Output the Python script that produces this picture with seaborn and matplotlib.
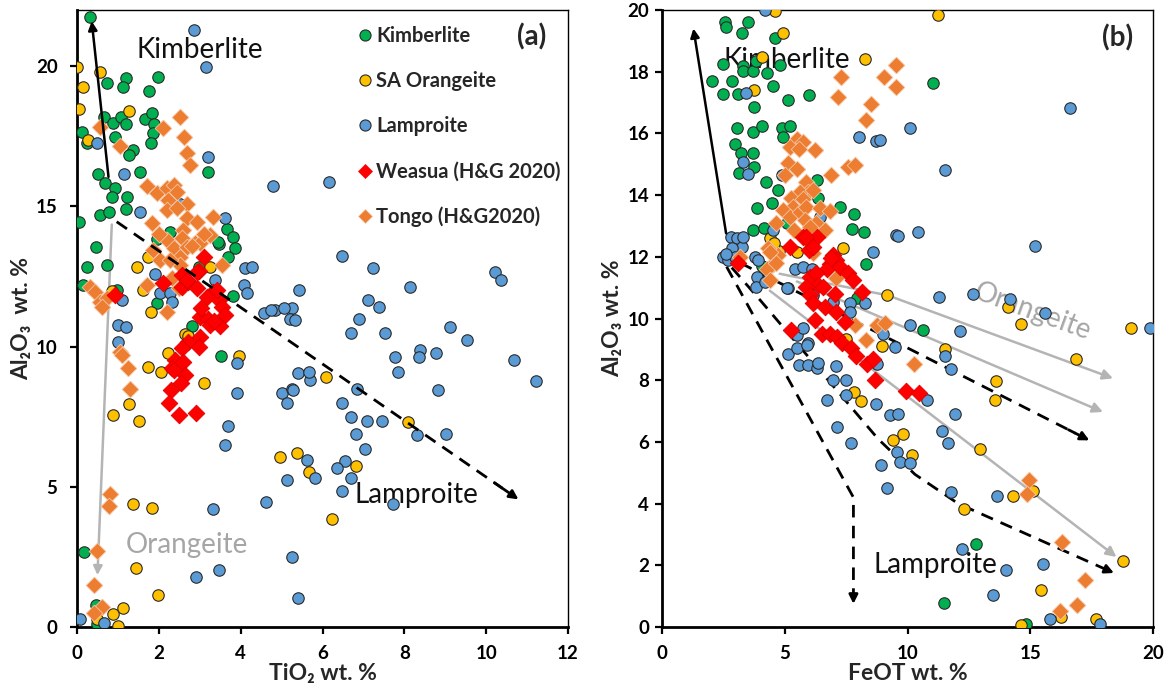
import numpy as np
import pandas as pd
import seaborn as sns
import matplotlib
matplotlib.use("Agg")
import matplotlib.pyplot as plt
from matplotlib.lines import Line2D

sns.set_theme(style="ticks")
plt.rcParams['font.family'] = ['Lato', 'DejaVu Sans']

# ---------------- Panel (a): TiO2 vs Al2O3 ----------------
kim_a_ti = [0.32,0.74,1.20,1.13,1.99,1.76,0.11,0.67,0.89,1.07,1.20,1.65,1.83,1.88,1.85,1.80,0.25,0.93,1.38,1.28,
            0.52,0.69,0.93,0.85,1.21,1.54,3.21,0.55,0.77,1.20,0.05,0.46,0.25,0.73,1.95,3.66,3.82,3.86,3.46,3.70,
            2.97,3.82,0.14,0.97,1.95,2.80,3.52,0.18,0.46,0.48,2.27,3.45]
kim_a_al = [21.76,19.38,19.56,19.24,19.60,19.10,17.66,18.20,17.98,18.20,17.93,18.13,18.34,17.93,17.60,17.24,17.24,17.46,17.00,16.83,
            16.17,15.84,15.64,15.34,15.34,16.23,16.23,14.69,14.80,14.89,14.45,13.56,12.85,12.90,13.82,14.18,13.92,13.50,13.65,13.20,
            12.85,11.80,12.19,12.00,11.54,10.73,9.66,2.69,0.78,0.10,14.09,13.74]

ora_a_ti = [0.00,0.56,0.15,0.05,1.26,0.28,1.46,1.74,3.25,1.62,1.80,0.85,2.64,2.72,2.23,1.74,2.05,3.10,3.96,1.28,
            0.87,1.52,1.38,1.83,1.44,1.99,1.13,0.89,1.01,0.48,4.95,5.37,6.08,5.68,6.81,6.23,8.10]
ora_a_al = [19.98,19.80,19.26,18.46,18.40,17.38,12.85,13.20,12.82,12.01,11.24,11.98,10.46,10.37,9.78,9.28,9.10,8.69,9.66,7.95,
            7.56,7.36,4.39,4.23,2.09,1.14,0.67,0.46,0.04,0.27,6.05,6.20,8.92,5.54,5.75,3.84,7.32]

lam_a_ti = [2.86,3.15,0.48,3.21,1.15,4.80,1.54,2.52,3.62,1.91,4.11,4.27,4.09,4.15,2.03,2.27,2.31,1.09,3.37,5.42,
            4.56,4.84,5.26,5.21,5.34,1.01,1.20,1.01,3.92,3.92,3.70,3.62,3.33,2.92,3.48,4.63,5.13,5.00,5.25,5.13,
            5.41,5.25,5.39,0.07,0.66,6.16,6.47,7.24,10.22,10.36,8.14,7.12,7.37,6.89,6.70,7.53,9.12,9.54,10.67,11.21,
            8.39,8.37,8.77,7.76,7.84,8.83,6.84,5.70,5.68,5.29,6.47,6.69,7.08,7.45,6.82,8.32,9.01,7.04,5.63,6.54,
            6.35,5.82,6.69,6.47,7.73,4.74,5.06]
lam_a_al = [21.28,19.98,17.27,16.77,16.15,15.73,14.81,15.10,14.60,12.60,12.79,12.85,12.19,11.90,11.92,11.90,11.60,11.65,12.37,12.02,
            11.18,11.30,11.36,11.00,10.95,10.77,10.70,10.15,9.40,8.33,7.17,6.49,4.19,1.79,2.03,4.47,5.24,8.33,8.49,7.98,
            9.04,2.51,1.02,0.27,0.13,15.88,13.23,12.79,12.67,12.37,12.13,11.66,11.40,11.00,10.48,10.47,10.68,10.23,9.52,8.78,
            9.88,9.64,9.78,9.64,9.08,8.45,8.48,8.81,9.10,8.45,7.97,7.50,7.36,7.36,6.88,6.84,6.87,6.33,5.95,5.93,
            5.66,5.32,5.30,4.86,4.39,11.30,11.36]

wea_a_ti = [3.10,2.98,2.56,2.11,2.56,2.72,3.33,3.17,3.46,3.54,3.62,3.00,3.21,3.25,3.50,0.93,3.00,2.72,2.56,2.99,
            2.40,2.60,2.31,2.63,2.55,2.30,2.26,2.50,2.90,2.94,2.68,2.94,3.41,3.02,3.35,2.36]
wea_a_al = [13.18,12.70,12.55,12.25,12.13,12.30,11.95,11.77,11.65,11.42,11.12,11.05,11.00,10.77,10.74,11.83,10.35,10.17,9.94,9.99,
            9.52,9.46,9.22,8.98,8.69,8.45,8.00,7.56,7.64,12.66,12.37,12.07,12.00,11.36,10.90,9.16]

ton_a_ti = [2.52,2.11,0.55,1.04,2.62,2.70,2.76,1.70,1.95,2.19,2.36,2.44,2.23,2.69,2.19,2.44,3.33,1.83,2.69,2.93,
            2.60,2.19,2.56,2.36,2.69,2.89,3.25,1.86,2.03,2.52,2.52,3.00,3.54,2.32,1.70,0.32,0.44,0.56,0.73,0.60,
            1.05,1.10,1.25,1.30,0.81,0.79,0.50,0.42,0.60,0.42,2.00,2.82,3.10,2.28,2.50,2.19]
ton_a_al = [18.19,17.78,17.84,17.15,17.48,16.91,16.47,15.72,15.46,15.64,15.76,15.52,15.22,15.10,14.87,14.93,14.63,14.39,14.57,14.45,
            14.15,13.80,13.86,13.50,13.56,13.68,13.97,13.44,13.08,13.20,12.90,13.68,12.90,12.43,12.19,12.13,11.95,11.60,11.72,11.42,
            9.82,9.70,9.25,8.47,4.74,4.31,2.72,1.50,0.72,0.49,14.00,13.60,14.00,13.08,12.07,11.24]

# ---------------- Panel (b): FeOT vs Al2O3 ----------------
kim_b_fe = [2.57,2.62,3.50,3.25,4.61,2.03,2.48,2.87,2.48,3.12,3.29,3.29,3.73,3.83,4.27,4.81,4.54,3.77,5.15,6.00,
            3.05,3.70,4.07,4.88,5.22,4.95,2.98,3.22,3.73,3.16,3.75,4.24,4.74,6.30,3.86,4.47,3.73,4.16,7.25,7.83,
            7.76,8.24,8.33,6.37,11.02,10.63,12.80,11.48,14.84,5.10,4.10,7.93]
kim_b_al = [19.62,19.46,19.62,19.24,19.08,17.70,18.24,17.70,17.28,17.28,18.20,18.02,18.02,18.35,17.97,18.22,17.54,16.84,17.08,17.24,
            16.19,16.05,16.24,16.16,16.24,15.89,15.65,15.35,15.35,14.72,14.92,14.43,14.18,14.49,13.57,13.73,12.86,12.94,13.62,13.38,
            12.89,12.79,11.78,13.89,17.64,9.64,2.70,0.78,0.10,13.10,11.70,10.65]

ora_b_fe = [4.61,4.92,4.07,3.75,8.27,4.40,4.78,5.49,7.38,9.15,7.49,11.24,14.09,14.63,19.10,11.54,16.84,13.60,13.55,9.80,
            9.39,12.94,10.20,15.10,14.30,12.29,18.76,15.45,14.63,16.25,17.65,7.82,8.09,8.98,4.55]
ora_b_al = [19.97,19.26,18.49,17.41,18.40,12.60,12.20,12.16,12.27,10.76,9.32,19.84,10.38,9.82,9.68,9.00,8.70,7.98,7.37,6.25,
            6.05,5.78,5.57,4.40,4.25,3.84,2.13,1.19,0.05,0.32,0.27,7.62,7.33,9.10,12.45]

lam_b_fe = [4.20,3.41,8.04,8.71,3.32,3.50,4.88,6.46,4.51,2.80,3.07,3.25,2.84,2.50,2.71,2.98,3.32,2.60,3.79,3.90,
            3.86,3.83,4.27,5.42,5.76,6.10,5.15,6.17,8.58,9.55,7.66,7.66,8.27,6.98,9.01,5.49,5.96,16.60,10.12,11.54,
            9.62,10.43,15.20,11.29,12.67,14.16,15.61,10.12,12.13,19.85,8.87,11.52,11.76,11.92,11.41,11.65,10.80,9.28,9.62,9.58,
            9.69,10.12,8.94,9.15,11.76,13.66,12.20,15.51,13.99,13.48,15.79,17.83,9.48,5.12,5.49,5.92,5.60,5.96,6.30,6.37,
            7.09,6.95,7.49,7.49,6.71,8.71,7.14,7.72,8.77,5.76,4.20,5.08]
lam_b_al = [20.00,17.30,15.89,15.75,15.06,14.67,14.65,13.30,12.86,12.63,12.60,12.32,12.27,12.00,11.89,12.00,12.63,12.10,12.00,11.90,
            11.35,11.03,11.24,11.62,11.68,11.62,11.00,10.76,12.16,12.70,10.49,10.22,10.49,10.54,9.51,9.46,9.19,16.81,16.18,14.81,
            12.67,12.79,12.36,10.70,10.81,10.62,10.18,9.78,9.59,9.68,15.78,8.78,8.35,6.89,6.36,5.95,7.37,6.86,6.92,5.68,
            5.35,5.32,5.24,4.49,4.38,4.25,2.54,2.05,1.84,1.03,0.27,0.11,9.08,8.84,9.03,9.14,8.49,8.49,8.38,8.56,
            8.45,8.00,8.00,7.51,7.37,7.22,6.49,5.95,8.54,9.68,11.17,10.98]

wea_b_fe = [5.22,5.73,6.00,6.30,6.17,6.98,7.11,6.84,6.71,7.25,6.03,6.27,6.37,5.89,6.03,6.57,7.05,7.56,7.79,8.13,
            6.17,6.64,7.09,7.45,6.23,6.54,5.28,6.84,7.15,7.32,7.72,7.89,8.36,8.60,8.67,9.93,10.47,3.11,5.89,6.90]
wea_b_al = [12.32,12.65,12.22,12.65,12.32,12.05,11.89,11.78,11.62,11.68,11.35,11.46,11.08,11.03,10.76,11.03,10.81,11.46,11.24,10.86,
            10.49,10.38,10.22,9.89,9.95,9.51,9.62,9.51,9.41,9.19,9.03,8.78,8.54,8.70,8.02,7.65,7.59,11.79,12.65,11.95]

ton_b_fe = [7.28,7.18,9.53,9.04,9.53,8.51,8.33,5.49,5.73,5.22,5.60,6.23,5.12,5.49,5.01,6.87,7.59,7.86,5.89,5.96,
            5.62,6.17,5.28,5.76,5.35,4.92,5.22,5.62,5.89,6.44,6.84,5.83,6.27,6.64,6.03,5.38,4.67,6.06,4.34,4.74,
            4.54,4.27,3.18,6.17,7.11,8.33,8.77,9.08,7.86,10.25,14.95,14.86,16.28,17.23,16.90,16.22,4.40,4.40,4.67]
ton_b_al = [17.84,17.19,18.22,17.84,17.49,16.95,16.43,15.81,15.73,15.57,15.50,15.46,15.05,14.86,14.65,14.65,14.92,14.97,14.43,14.11,
            14.11,14.16,13.89,13.86,13.62,13.51,13.30,13.46,13.62,13.57,13.49,13.19,13.08,12.86,12.97,12.86,13.10,12.43,12.27,12.05,
            11.78,11.62,12.00,12.11,11.30,9.30,9.78,9.86,9.78,8.52,4.76,4.30,2.76,1.51,0.70,0.52,12.16,11.24,11.80]

# ---------------- trend lines ----------------
a_black_x = [0.77, 0.36];  a_black_y = [16.05, 21.6]
a_gray_x = [0.85, 0.50];   a_gray_y = [14.35, 1.85]
a_dash_x = [0.97, 10.79];  a_dash_y = [14.45, 4.55]

b_black_x = [2.62, 1.29];  b_black_y = [12.76, 19.4]
b_dash1_x = [3.2, 17.4];   b_dash1_y = [11.8, 6.05]
b_dash2_x = [2.85, 4.0, 8.8, 10.3, 12.06, 18.4]; b_dash2_y = [11.65, 10.6, 6.1, 4.95, 4.0, 1.75]
b_dash3_x = [2.64, 7.8, 7.8]; b_dash3_y = [11.68, 4.2, 0.75]
b_gray1_x = [4.8, 9.2, 18.36]; b_gray1_y = [11.45, 10.75, 8.06]
b_gray2_x = [5.5, 17.95];      b_gray2_y = [11.2, 6.97]
b_gray3_x = [4.4, 18.5];       b_gray3_y = [10.9, 2.27]

GREEN, YELLOW, BLUE, RED, ORANGE = '#00B050', '#FFC000', '#5B9BD5', '#FF0000', '#ED7D31'
EDGE = '#2a2a2a'

fig = plt.figure(figsize=(11.69, 6.86), dpi=100)
W, H = 1169, 686
ax1 = fig.add_axes([77 / W, 59 / H, 491 / W, 617 / H])
ax2 = fig.add_axes([661.7 / W, 59 / H, 491.6 / W, 617 / H])


def scatter(ax, x, y, color, marker, edge, s, lw):
    df = pd.DataFrame({'x': x, 'y': y})
    sns.scatterplot(data=df, x='x', y='y', ax=ax, color=color, marker=marker, s=s,
                    edgecolor=edge, linewidth=lw, zorder=4, legend=False)


def draw_points(ax, series):
    for x, y, c, m, e, s, lw in series:
        scatter(ax, x, y, c, m, e, s, lw)


def arrow_line(ax, xs, ys, color, lw, dashed=False, ms=14, z=3):
    if dashed:
        ax.plot(xs[:-1] + [xs[-1] - (xs[-1] - xs[-2]) * 0.04], ys[:-1] + [ys[-1] - (ys[-1] - ys[-2]) * 0.04],
                color=color, lw=lw, ls=(0, (4.5, 3.0)), zorder=z, solid_capstyle='butt')
        sx = xs[-1] - (xs[-1] - xs[-2]) * 0.06
        sy = ys[-1] - (ys[-1] - ys[-2]) * 0.06
        ax.annotate('', xy=(xs[-1], ys[-1]), xytext=(sx, sy),
                    arrowprops=dict(arrowstyle='-|>', color=color, lw=lw, mutation_scale=ms, shrinkA=0, shrinkB=0),
                    zorder=z)
    else:
        ax.plot(xs[:-1], ys[:-1], color=color, lw=lw, zorder=z)
        ax.annotate('', xy=(xs[-1], ys[-1]), xytext=(xs[-2], ys[-2]),
                    arrowprops=dict(arrowstyle='-|>', color=color, lw=lw, mutation_scale=ms, shrinkA=0, shrinkB=0),
                    zorder=z)


S_C, S_D = 68, 72
series_a = [
    (kim_a_ti, kim_a_al, GREEN, 'o', EDGE, S_C, 0.8),
    (ora_a_ti, ora_a_al, YELLOW, 'o', EDGE, S_C, 0.8),
    (lam_a_ti, lam_a_al, BLUE, 'o', EDGE, S_C, 0.8),
    (ton_a_ti, ton_a_al, ORANGE, 'D', '#f3c6a5', S_D, 0.6),
    (wea_a_ti, wea_a_al, RED, 'D', '#e00000', S_D, 0.6),
]
series_b = [
    (kim_b_fe, kim_b_al, GREEN, 'o', EDGE, S_C, 0.8),
    (ora_b_fe, ora_b_al, YELLOW, 'o', EDGE, S_C, 0.8),
    (lam_b_fe, lam_b_al, BLUE, 'o', EDGE, S_C, 0.8),
    (ton_b_fe, ton_b_al, ORANGE, 'D', '#f3c6a5', S_D, 0.6),
    (wea_b_fe, wea_b_al, RED, 'D', '#e00000', S_D, 0.6),
]

TXT = 20
# ---- panel a ----
arrow_line(ax1, a_black_x, a_black_y, 'black', 1.8, ms=13, z=5)
arrow_line(ax1, a_gray_x, a_gray_y, '#b4b4b4', 1.8, ms=13, z=3)
arrow_line(ax1, a_dash_x, a_dash_y, 'black', 2.0, dashed=True, ms=13, z=5)
draw_points(ax1, series_a)

ax1.text(3.0, 20.57, 'Kimberlite', fontsize=TXT, ha='center', va='center', color='#111111', zorder=2)
ax1.text(2.69, 2.92, 'Orangeite', fontsize=TXT, ha='center', va='center', color='#a6a6a6', zorder=2)
ax1.text(8.3, 4.7, 'Lamproite', fontsize=TXT, ha='center', va='center', color='#111111', zorder=2)
ax1.text(11.12, 21.03, '(a)', fontsize=20, fontweight='bold', ha='center', va='center')

ax1.set_xlim(0, 12)
ax1.set_ylim(0, 22)
ax1.set_xticks([0, 2, 4, 6, 8, 10, 12])
ax1.set_yticks([0, 5, 10, 15, 20])
ax1.set_xlabel('TiO₂ wt. %', fontsize=16.5, fontweight='bold', labelpad=1)
ax1.set_ylabel('Al₂O₃  wt. %', fontsize=16.5, fontweight='bold', labelpad=3)

handles = [
    Line2D([], [], ls='none', marker='o', ms=8, mfc=GREEN, mec=EDGE, mew=0.8, label='Kimberlite'),
    Line2D([], [], ls='none', marker='o', ms=8, mfc=YELLOW, mec=EDGE, mew=0.8, label='SA Orangeite'),
    Line2D([], [], ls='none', marker='o', ms=8, mfc=BLUE, mec=EDGE, mew=0.8, label='Lamproite'),
    Line2D([], [], ls='none', marker='D', ms=7.5, mfc=RED, mec=RED, mew=0.5, label='Weasua (H&G 2020)'),
    Line2D([], [], ls='none', marker='D', ms=7.5, mfc=ORANGE, mec='#f3c6a5', mew=0.5, label='Tongo (H&G2020)'),
]
leg = ax1.legend(handles=handles, loc='upper left', bbox_to_anchor=(0.572, 0.974), frameon=False,
                 prop={'size': 14.5, 'weight': 'bold'}, labelspacing=1.25, handlelength=0.7,
                 handletextpad=0.2, borderpad=0, borderaxespad=0)

# ---- panel b ----
arrow_line(ax2, b_black_x, b_black_y, 'black', 1.8, ms=13, z=5)
for gx, gy in [(b_gray1_x, b_gray1_y), (b_gray2_x, b_gray2_y), (b_gray3_x, b_gray3_y)]:
    arrow_line(ax2, gx, gy, '#b4b4b4', 1.8, ms=15, z=3)
for dx, dy in [(b_dash1_x, b_dash1_y), (b_dash2_x, b_dash2_y), (b_dash3_x, b_dash3_y)]:
    arrow_line(ax2, dx, dy, 'black', 2.0, dashed=True, ms=13, z=3)
draw_points(ax2, series_b)

ax2.text(5.08, 18.38, 'Kimberlite', fontsize=TXT, ha='center', va='center', color='#111111', zorder=2)
ax2.text(15.1, 10.23, 'Orangeite', fontsize=TXT, ha='center', va='center', color='#a6a6a6', rotation=-20, zorder=2)
ax2.text(11.15, 2.0, 'Lamproite', fontsize=TXT, ha='center', va='center', color='#111111', zorder=2)
ax2.text(18.55, 19.1, '(b)', fontsize=20, fontweight='bold', ha='center', va='center')

ax2.set_xlim(0, 20)
ax2.set_ylim(0, 20)
ax2.set_xticks([0, 5, 10, 15, 20])
ax2.set_yticks(list(range(0, 21, 2)))
ax2.set_xlabel('FeOT wt. %', fontsize=16.5, fontweight='bold', labelpad=1)
ax2.set_ylabel('Al₂O₃ wt. %', fontsize=16.5, fontweight='bold', labelpad=3)

for ax, ypad in [(ax1, 9), (ax2, 4)]:
    ax.spines['left'].set_linewidth(2.0)
    ax.spines['bottom'].set_linewidth(2.0)
    ax.spines['top'].set_linewidth(1.0)
    ax.spines['right'].set_linewidth(1.0)
    for sp in ax.spines.values():
        sp.set_color('black')
    ax.tick_params(axis='both', direction='out', length=5, width=1.6, labelsize=13.5, colors='black')
    ax.tick_params(axis='y', pad=ypad)
    ax.tick_params(axis='x', pad=8)
    for lab in ax.get_xticklabels() + ax.get_yticklabels():
        lab.set_fontweight('bold')
    ax.set_facecolor('white')

fig.savefig('out.png', dpi=100, facecolor='white')
